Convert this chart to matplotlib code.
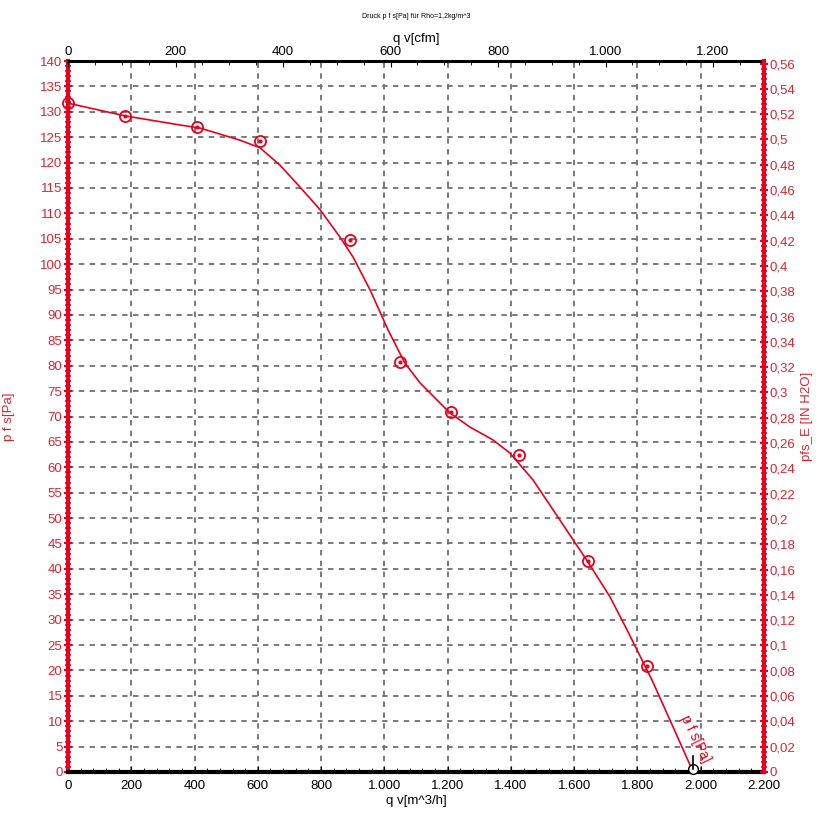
import matplotlib
matplotlib.use("Agg")
import matplotlib.pyplot as plt
from matplotlib.ticker import MultipleLocator, FuncFormatter

plt.rcParams['font.family'] = ['Liberation Sans', 'DejaVu Sans']

# traced curve p_fs [Pa] vs q_v [m^3/h]
curve_q = [0, 180, 354, 417, 544, 607, 670, 733, 797, 860, 901, 955, 1012, 1065,
           1113, 1207, 1271, 1343, 1397, 1470, 1555, 1644, 1713, 1767, 1830, 1846,
           1903, 1976]
curve_p = [131.7, 129.2, 127.4, 126.8, 124.4, 122.9, 119.5, 115.2, 110.7, 105.3,
           101.4, 94.9, 87.0, 80.5, 76.6, 70.7, 67.9, 65.4, 62.8, 57.5, 49.6, 41.3,
           34.5, 28.0, 20.1, 18.1, 10.2, 0.0]

# measured points
meas_q = [0, 180, 408, 607, 891, 1049, 1210, 1425, 1643, 1830]
meas_p = [131.7, 129.2, 127.0, 124.2, 104.7, 80.7, 70.9, 62.4, 41.5, 20.9]

CFM = 1.69901      # m^3/h per cfm
INH2O = 249.089    # Pa per inch H2O
red = '#e8001c'
txtred = '#d9262f'

def dotfmt(v, pos):
    return '{:,.0f}'.format(v).replace(',', '.')

def commafmt(v, pos):
    s = '{:.2f}'.format(v).rstrip('0').rstrip('.')
    return s.replace('.', ',')

fig = plt.figure(figsize=(8.35, 8.32), dpi=100)
ax = fig.add_axes([68/835, 1-772/832, 696/835, 711/832])

ax.plot(curve_q, curve_p, color=red, lw=1.2, zorder=4)
ax.plot(meas_q, meas_p, 'o', ms=8, mfc='none', mec=red, mew=1.3, zorder=5, clip_on=False)
ax.plot(meas_q, meas_p, 'o', ms=2, color=red, zorder=5, clip_on=False)
ax.plot([curve_q[-1]], [0.6], marker='o', ms=7, mfc='white', mec='black', mew=1, zorder=6, clip_on=False)
ax.plot([curve_q[-1], curve_q[-1]], [0.5, 3.2], color='black', lw=1.2, zorder=6)
ax.text(1983, 6.5, 'p f s[Pa]', color=red, fontsize=10, rotation=-64,
        ha='center', va='center', zorder=6)

ax.set_xlim(0, 2200)
ax.set_ylim(0, 140)
ax.xaxis.set_major_locator(MultipleLocator(200))
ax.xaxis.set_minor_locator(MultipleLocator(40))
ax.yaxis.set_major_locator(MultipleLocator(5))
ax.yaxis.set_minor_locator(MultipleLocator(1))
ax.xaxis.set_major_formatter(FuncFormatter(dotfmt))
ax.grid(True, which='major', color='#707070', ls=(0, (3, 3)), lw=1.3)
ax.tick_params(axis='x', which='both', direction='in', colors='black', labelsize=9.5, pad=6)
ax.tick_params(axis='x', which='major', length=4)
ax.tick_params(axis='x', which='minor', length=3)
ax.tick_params(axis='y', which='both', direction='inout', colors=red, labelcolor=txtred,
               labelsize=9.5, pad=1)
ax.tick_params(axis='y', which='major', length=6, width=1.5)
ax.tick_params(axis='y', which='minor', length=5, width=1.2)
ax.spines['left'].set_color(red)
ax.spines['left'].set_linewidth(3)
ax.spines['bottom'].set_color('black')
ax.spines['bottom'].set_linewidth(3)
ax.spines['top'].set_visible(False)
ax.spines['right'].set_visible(False)
ax.set_xlabel('q v[m^3/h]', fontsize=9.5, labelpad=2)
ax.set_ylabel('p f s[Pa]', fontsize=9.5, color=txtred, labelpad=18)

# top axis in cfm
axt = ax.twiny()
axt.set_xlim(0, 2200/CFM)
axt.xaxis.set_major_locator(MultipleLocator(200))
axt.xaxis.set_minor_locator(MultipleLocator(50))
axt.xaxis.set_major_formatter(FuncFormatter(dotfmt))
axt.tick_params(axis='x', which='both', direction='in', labelsize=9.5, pad=2)
axt.tick_params(axis='x', which='major', length=4)
axt.tick_params(axis='x', which='minor', length=3)
axt.spines['top'].set_linewidth(2.2)
axt.spines['top'].set_color('black')
for s in ['left', 'right', 'bottom']:
    axt.spines[s].set_visible(False)
axt.set_xlabel('q v[cfm]', fontsize=9.5, labelpad=3)

# right axis in inch H2O
axr = ax.twinx()
axr.set_ylim(0, 140/INH2O)
axr.yaxis.set_major_locator(MultipleLocator(0.02))
axr.yaxis.set_minor_locator(MultipleLocator(0.004))
axr.yaxis.set_major_formatter(FuncFormatter(commafmt))
axr.tick_params(axis='y', which='both', direction='inout', colors=red, labelcolor=txtred,
                labelsize=9.5, pad=1)
axr.tick_params(axis='y', which='major', length=6, width=1.5)
axr.tick_params(axis='y', which='minor', length=5, width=1.2)
axr.spines['right'].set_color(red)
axr.spines['right'].set_linewidth(3)
for s in ['left', 'top', 'bottom']:
    axr.spines[s].set_visible(False)
axr.set_ylabel('pfs_E [IN H2O]', fontsize=9.5, color=txtred, labelpad=4)

fig.text(416/835, 1-17/832, 'Druck p f s[Pa] für Rho=1,2kg/m^3', fontsize=5,
         ha='center', va='center')

fig.savefig('out.png', dpi=100)
